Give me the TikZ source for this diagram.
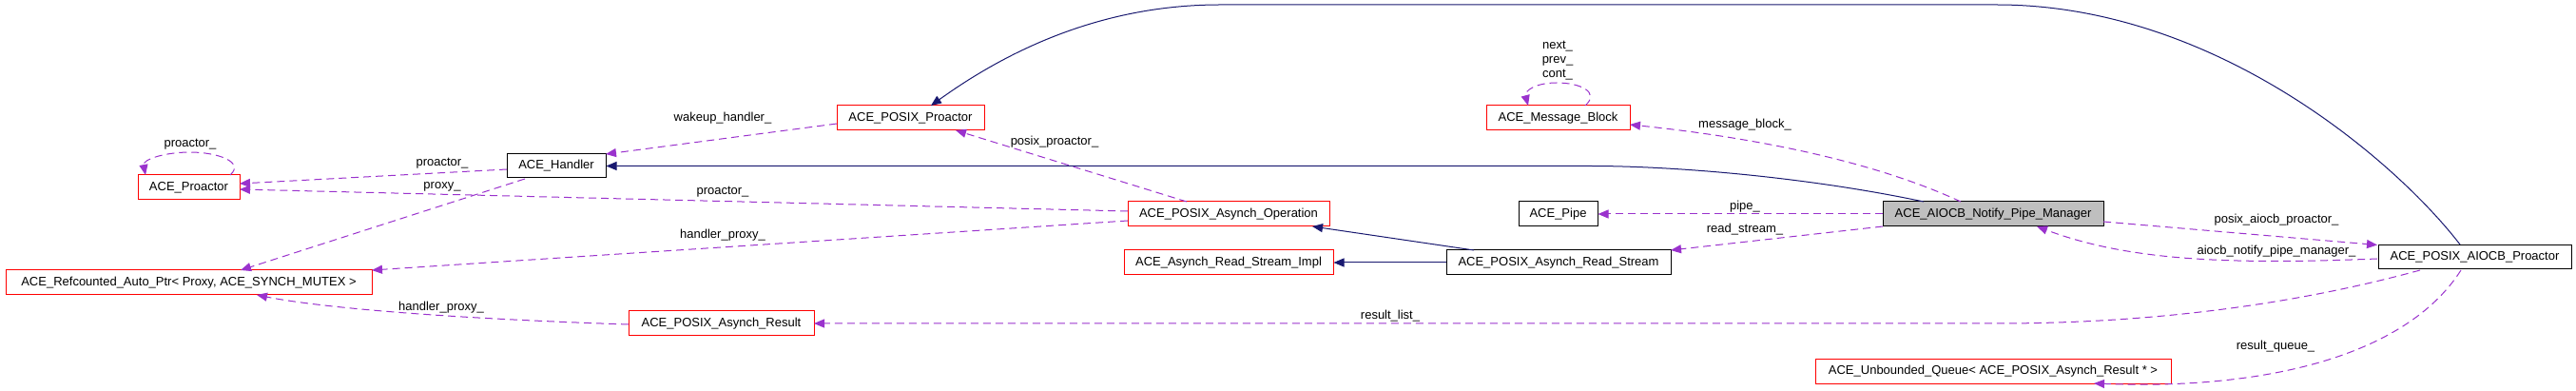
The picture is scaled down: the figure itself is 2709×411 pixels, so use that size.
\documentclass[tikz,border=0pt]{standalone}
\usepackage{fontspec}
\setmainfont{Liberation Sans}
\usetikzlibrary{arrows.meta,calc}
\definecolor{edgepurple}{HTML}{9A32CD}
\definecolor{inhblue}{HTML}{191970}
\definecolor{boxgray}{HTML}{BFBFBF}
\begin{document}
\begin{tikzpicture}[x=1pt,y=-1pt,font=\fontsize{13}{15}\selectfont,
  cls/.style={draw,line width=1pt,minimum height=26pt,inner sep=0pt,anchor=center,fill=white},
  redcls/.style={cls,draw=red},
  blkcls/.style={cls,draw=black},
  mem/.style={edgepurple,dash pattern=on 8pt off 5pt,line width=1pt,-{Triangle[length=11pt,width=9pt]}},
  inh/.style={inhblue,line width=1pt,-{Triangle[length=11pt,width=9pt]}},
  lbl/.style={inner sep=0pt,anchor=center,align=center}]
\fill[white] (0,0) rectangle (2709,411);
\useasboundingbox (0,0) rectangle (2709,411);

% classes
\node[redcls,minimum width=107pt] (prc) at (198.5,197) {ACE\_Proactor};
\node[redcls,minimum width=385pt] (ref) at (198.5,297) {ACE\_Refcounted\_Auto\_Ptr< Proxy, ACE\_SYNCH\_MUTEX >};
\node[blkcls,minimum width=104pt,minimum height=25pt] (hdl) at (585,174.5) {ACE\_Handler};
\node[redcls,minimum width=155pt] (pp) at (957.5,124) {ACE\_POSIX\_Proactor};
\node[redcls,minimum width=212pt] (pao) at (1292,225) {ACE\_POSIX\_Asynch\_Operation};
\node[redcls,minimum width=220pt] (rsi) at (1292,276) {ACE\_Asynch\_Read\_Stream\_Impl};
\node[redcls,minimum width=195pt] (par) at (758.5,340) {ACE\_POSIX\_Asynch\_Result};
\node[redcls,minimum width=151pt] (mb) at (1638.5,124) {ACE\_Message\_Block};
\node[blkcls,minimum width=83pt] (pipe) at (1638.5,225) {ACE\_Pipe};
\node[blkcls,minimum width=236pt] (pars) at (1639,276) {ACE\_POSIX\_Asynch\_Read\_Stream};
\node[blkcls,fill=boxgray,minimum width=232pt] (anpm) at (2096,225) {ACE\_AIOCB\_Notify\_Pipe\_Manager};
\node[redcls,minimum width=374pt,minimum height=25pt] (uq) at (2096,390.5) {ACE\_Unbounded\_Queue< ACE\_POSIX\_Asynch\_Result * >};
\node[blkcls,minimum width=203pt,minimum height=25pt] (apro) at (2602.5,270.5) {ACE\_POSIX\_AIOCB\_Proactor};

% member relations
\draw[mem] ($(prc.center)+(43.5,-13)$) .. controls (258,170) and (228,160) .. (200,160) .. controls (172,160) and (150,168) .. ($(prc.center)+(-45.5,-13)$);
\draw[mem] ($(mb.center)+(28.5,-13)$) .. controls (1683,97) and (1662,87) .. (1637,87) .. controls (1614,87) and (1603,96) .. ($(mb.center)+(-31.5,-13)$);
\draw[mem] ($(hdl.center)+(-52,3.5)$) -- ($(prc.center)+(53.5,-4)$);
\draw[mem] ($(hdl.center)+(-33,13.5)$) -- ($(ref.center)+(54.5,-13)$);
\draw[mem] ($(pp.center)+(-77.5,6)$) -- ($(hdl.center)+(52,-12.5)$);
\draw[mem] ($(pao.center)+(-106,-3)$) -- ($(prc.center)+(53.5,2)$);
\draw[mem] ($(pao.center)+(-106,7)$) -- ($(ref.center)+(192.5,-13)$);
\draw[mem] ($(pao.center)+(-44,-13)$) -- ($(pp.center)+(47.5,13)$);
\draw[mem] ($(par.center)+(-97.5,1)$) .. controls (450,334) and (330,322) .. ($(ref.center)+(71.5,13)$);
\draw[mem] ($(apro.center)+(-57.5,13.5)$) .. controls (2450,310) and (2300,340) .. (2100,340) -- ($(par.center)+(97.5,0)$);
\draw[mem] ($(anpm.center)+(-34,-13)$) .. controls (1950,160) and (1800,140) .. ($(mb.center)+(75.5,7)$);
\draw[mem] (anpm.west) -- (pipe.east);
\draw[mem] ($(anpm.center)+(-116,13)$) -- ($(pars.center)+(118,-13)$);
\draw[mem] ($(anpm.center)+(116,8)$) -- ($(apro.center)+(-102.5,-13)$);
\draw[mem] ($(apro.center)+(-102.5,1.5)$) .. controls (2350,278) and (2240,275) .. ($(anpm.center)+(46,13)$);
\draw[mem] ($(apro.center)+(-14.5,13.5)$) .. controls (2530,375) and (2380,410) .. ($(uq.center)+(106,12.5)$);

% inheritance
\draw[inh] ($(anpm.center)+(-73,-13)$) .. controls (1900,186) and (1760,174.5) .. (1673,174.5) -- (hdl.east);
\draw[inh] ($(apro.center)+(-15.5,-13.5)$) .. controls (2520,170) and (2330,5) .. (2100,5) -- (1283,5) .. controls (1150,5) and (1050,60) .. ($(pp.center)+(21.5,-13)$);
\draw[inh] ($(pars.center)+(-89,-13)$) -- ($(pao.center)+(88,13)$);
\draw[inh] (pars.west) -- (rsi.east);

% labels
\node[lbl] (l1) at (200,152) {proactor\_};
\node[lbl] (l2) at (1638,64) {next\_\\prev\_\\cont\_};
\node[lbl] (l3) at (465,172) {proactor\_};
\node[lbl] (l4) at (465,196) {proxy\_};
\node[lbl] (l5) at (760,124) {wakeup\_handler\_};
\node[lbl] (l6) at (760,202) {proactor\_};
\node[lbl] (l7) at (760,247) {handler\_proxy\_};
\node[lbl] (l8) at (1109,149) {posix\_proactor\_};
\node[lbl] (l9) at (464,323) {handler\_proxy\_};
\node[lbl] (l10) at (1462,332) {result\_list\_};
\node[lbl] (l11) at (1835,131) {message\_block\_};
\node[lbl] (l12) at (1835,217) {pipe\_};
\node[lbl] (l13) at (1835,241) {read\_stream\_};
\node[lbl] (l14) at (2394,231) {posix\_aiocb\_proactor\_};
\node[lbl] (l15) at (2394,264) {aiocb\_notify\_pipe\_manager\_};
\node[lbl] (l16) at (2393,364) {result\_queue\_};
\end{tikzpicture}
\end{document}
